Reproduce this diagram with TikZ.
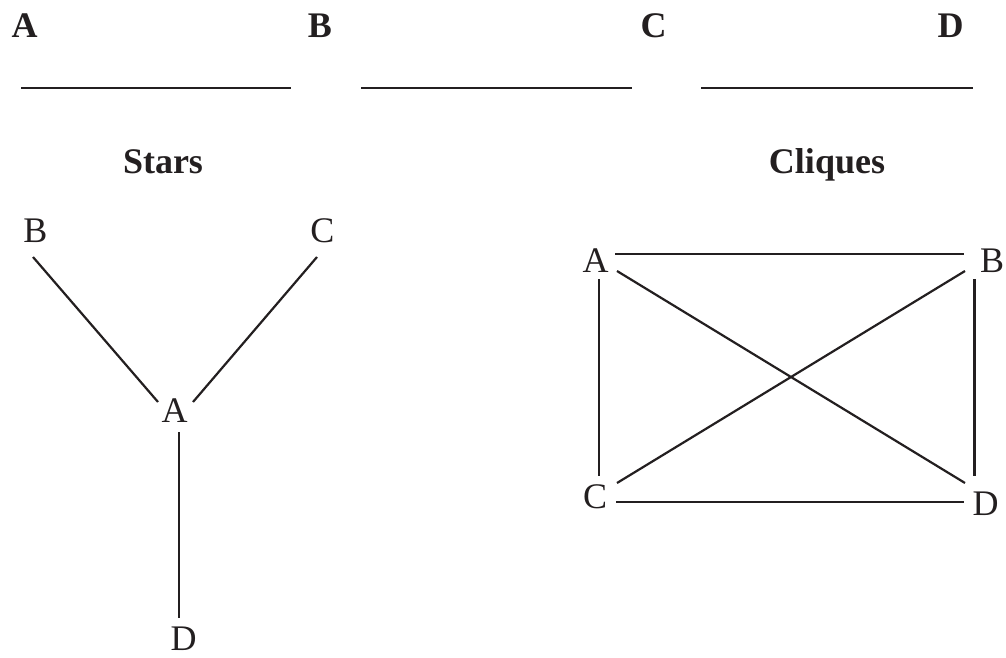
\documentclass[tikz,border=0pt]{standalone}
\usepackage{fontspec}
\setmainfont{Liberation Serif}
\usetikzlibrary{calc}
\definecolor{ink}{HTML}{231F20}
\begin{document}
\begin{tikzpicture}[x=1pt,y=-1pt,
  lbl/.style={inner sep=0pt,outer sep=0pt,anchor=base,text=ink,font=\fontsize{36}{40}\selectfont},
  blbl/.style={lbl,font=\fontsize{36}{40}\selectfont\bfseries},
  rule/.style={draw=ink,line width=2.6pt},
  edge/.style={draw=ink,line width=2.2pt}]
\useasboundingbox (0,0) rectangle (1006,658);
% top row
\node[blbl] (tA) at (24.5,38) {A};
\node[blbl] (tB) at (320,38) {B};
\node[blbl] (tC) at (653.5,38) {C};
\node[blbl] (tD) at (950.5,38) {D};
\coordinate (r1s) at (21,88);  \coordinate (r1e) at (291,88);
\coordinate (r2s) at (361,88); \coordinate (r2e) at (632,88);
\coordinate (r3s) at (701,88); \coordinate (r3e) at (973,88);
\draw[rule] (r1s) -- (r1e);
\draw[rule] (r2s) -- (r2e);
\draw[rule] (r3s) -- (r3e);
% titles
\node[blbl] (stars) at (163,173) {Stars};
\node[blbl] (cliques) at (827,173) {Cliques};
% star
\node[lbl] (sB) at (35.5,242) {B};
\node[lbl] (sC) at (322.5,242) {C};
\node[lbl] (sA) at (174.5,422) {A};
\node[lbl] (sD) at (183.5,650) {D};
\draw[edge] ($(sB.base)+(-2.5,15)$) -- ($(sA.base)+(-16.5,-20)$);
\draw[edge] ($(sC.base)+(-5.5,15)$) -- ($(sA.base)+(18.5,-20)$);
\draw[edge] ($(sA.base)+(4.5,10)$) -- ($(sD.base)+(-4.5,-32)$);
% clique
\node[lbl] (cA) at (595.5,272) {A};
\node[lbl] (cB) at (992,272) {B};
\node[lbl] (cC) at (595,508) {C};
\node[lbl] (cD) at (985.5,515) {D};
\draw[edge] ($(cA.base)+(19.5,-18)$) -- ($(cB.base)+(-28,-18)$);
\draw[edge] ($(cA.base)+(3.5,7)$) -- ($(cC.base)+(4,-32)$);
\draw[edge] ($(cB.base)+(-17.5,7)$) -- ($(cD.base)+(-11,-39)$);
\draw[edge] ($(cC.base)+(21,-6)$) -- ($(cD.base)+(-21.5,-13)$);
\draw[edge] ($(cA.base)+(21.5,-1)$) -- ($(cD.base)+(-20.5,-32)$);
\draw[edge] ($(cB.base)+(-27,-1)$) -- ($(cC.base)+(22,-25)$);
\end{tikzpicture}
\end{document}
